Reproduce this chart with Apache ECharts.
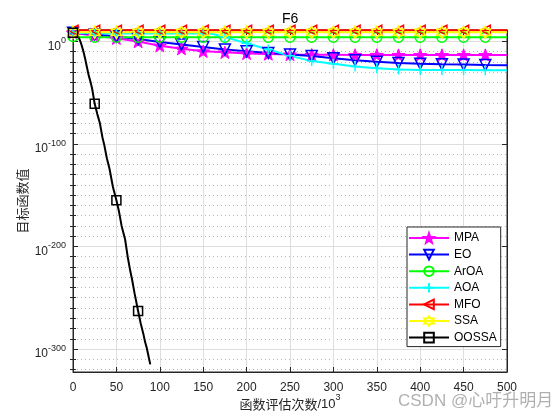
<!DOCTYPE html>
<html><head><meta charset="utf-8">
<script src="https://cdn.jsdelivr.net/npm/echarts@6/dist/echarts.min.js"></script>
<style>html,body{margin:0;padding:0;background:#fff}#c{width:560px;height:420px}</style>
</head><body><div id="c"></div>
<script>
// ---- data (y values are log10 of the objective value) ----
const seriesNames = ['MPA','EO','ArOA','AOA','MFO','SSA','OOSSA'];
const xTickValues = [0,50,100,150,200,250,300,350,400,450,500];
const yMajorExps = [-300,-200,-100,0];
const yMinorExps = [-320,-310,-290,-280,-270,-260,-250,-240,-230,-220,-210,-190,-180,-170,-160,-150,-140,-130,-120,-110,-90,-80,-70,-60,-50,-40,-30,-20,-10,10];

const xs25 = [0,25,50,75,100,125,150,175,200,225,250,275,300,325,350,375,400,425,450,475,500];
const mpaLog10 = [8.3,5.4,2.9,-0.3,-4.3,-7.2,-9.8,-10.8,-11.8,-12.4,-12.9,-13.1,-13.2,-13.3,-13.3,-13.4,-13.4,-13.4,-13.4,-13.4,-13.4];
const eoLog10  = [8.3,6.8,4.7,2.2,-0.8,-3.2,-5.6,-7.9,-9.8,-11.3,-12.8,-14.4,-16.5,-18.4,-20.0,-21.1,-21.8,-22.3,-22.7,-23.1,-23.4];
const aroaX     = [0,6,25,50,75,100,125,150,175,200,225,250,275,300,325,350,375,400,425,450,475,500];
const aroaLog10 = [4.7,4.0,4.0,4.0,4.0,4.0,4.0,4.0,4.0,4.0,4.0,4.0,4.0,4.0,4.0,4.0,4.0,4.0,4.0,4.0,4.0,4.0];
const aoaX      = [0,25,50,75,100,125,150,160,175,200,225,250,275,300,325,350,375,400,425,450,475,500];
const aoaLog10  = [8.3,7.7,7.7,7.7,7.7,7.7,7.7,7.3,4.2,-2.0,-8.0,-14.2,-19.3,-22.0,-24.5,-26.3,-27.4,-27.9,-28.1,-28.1,-28.2,-28.2];
const mfoLog10 = [10.7,10.7,10.7,10.7,10.7,10.7,10.7,10.7,10.7,10.7,10.7,10.7,10.7,10.7,10.7,10.7,10.7,10.7,10.7,10.7,10.7];
const ssaLog10 = [8.7,8.7,8.7,8.7,8.7,8.7,8.7,8.7,8.7,8.7,8.7,8.7,8.7,8.7,8.7,8.7,8.7,8.7,8.7,8.7,8.7];
const oossaX     = [0,2,4,6,8,10,12,14,16,18,20,22,25,28,31,34,36,39,42,46,50,53,56,60,63,66,68,71,75,78,81,83,85,87,89];
const oossaLog10 = [8.3,7.8,6.5,4.5,1,-4,-10,-17,-25,-33,-39,-46,-61,-71,-80,-94,-101,-114,-124,-142,-155,-166,-180,-193,-210,-224,-232,-246,-263,-275,-285,-293,-299,-307,-315];

// ---- helpers ----
function build(xs, ys){
  return xs.map((x,i)=>{
    const item = {value:[x, ys[i]]};
    if (!(x % 25 === 0 && x < 500)) item.symbol = 'none';
    return item;
  });
}
const STAR = 'path://M0,-10 L2.35,-3.24 L9.51,-3.09 L3.8,1.24 L5.88,8.09 L0,4 L-5.88,8.09 L-3.8,1.24 L-9.51,-3.09 L-2.35,-3.24 Z';
const HEXA = 'path://M0,-10 L2.887,-5 L8.66,-5 L5.774,0 L8.66,5 L2.887,5 L0,10 L-2.887,5 L-8.66,5 L-5.774,0 L-8.66,-5 L-2.887,-5 Z';
const PLUS = 'path://M-10,0 L10,0 M0,-10 L0,10';
const CLEAR = 'rgba(0,0,0,0)';
const AX = '#262626';
const FONT = 'Liberation Sans, Arial, sans-serif';
const CJK = 'Noto Sans CJK SC, sans-serif';

function line(name, xs, ys, color, symbol, size, filled, rotate){
  return {
    name, type:'line', xAxisIndex:0, yAxisIndex:0,
    data: build(xs, ys), clip:false, animation:false,
    symbol, symbolSize:size, symbolRotate: rotate||0, symbolKeepAspect:true,
    showAllSymbol:true,
    lineStyle:{color, width:2},
    itemStyle: filled ? {color, borderColor:color, borderWidth:1} : {color:CLEAR, borderColor:color, borderWidth:1.5},
    emphasis:{disabled:true}
  };
}

const yMin = -322.4, yMax = 11;
const yLabelRich = {
  b:{fontSize:12, fontFamily:FONT, color:AX, lineHeight:16, verticalAlign:'bottom'},
  s:{fontSize:9, fontFamily:FONT, color:AX, lineHeight:9, verticalAlign:'top'}
};

const chart = echarts.init(document.getElementById('c'), null, {renderer:'canvas'});
chart.setOption({
  backgroundColor:'#fff',
  animation:false,
  title:{text:'F6', left:282, top:12, padding:0, textStyle:{fontSize:14, fontWeight:'normal', color:'#000', fontFamily:FONT}},
  grid:{left:73, right:53, top:30, bottom:48, show:true, borderColor:AX, borderWidth:1, backgroundColor:'#fff', containLabel:false, outerBoundsMode:'none'},
  legend:{
    orient:'vertical', left:407, top:227, itemWidth:40, itemHeight:12, itemGap:4.6,
    padding:[5,4,3,1], backgroundColor:'#fff', borderColor:AX, borderWidth:1, borderRadius:0,
    textStyle:{fontSize:12, fontFamily:FONT, color:'#000'}, data:seriesNames
  },
  xAxis:[
    {type:'value', position:'bottom', min:0, max:500, interval:50,
     axisLine:{show:true, onZero:false, lineStyle:{color:AX}},
     axisTick:{show:true, inside:true, length:5, lineStyle:{color:AX}},
     axisLabel:{show:true, margin:10, fontSize:12, fontFamily:FONT, color:AX},
     splitLine:{show:true, lineStyle:{color:'#dedede', width:1}},
     name:'{c|函数评估次数}{a|/10}{s|3}', nameLocation:'middle', nameGap:21, nameMoveOverlap:false,
     nameTextStyle:{rich:{
       c:{fontSize:13, fontFamily:CJK, color:AX, lineHeight:18, verticalAlign:'bottom'},
       a:{fontSize:13, fontFamily:FONT, color:AX, lineHeight:18, verticalAlign:'bottom'},
       s:{fontSize:9, fontFamily:FONT, color:AX, lineHeight:9, verticalAlign:'top'}
     }}
    },
    {type:'value', position:'top', min:0, max:500, interval:50,
     axisLine:{show:true, onZero:false, lineStyle:{color:AX}},
     axisTick:{show:true, inside:true, length:5, lineStyle:{color:AX}},
     axisLabel:{show:false}, splitLine:{show:false}}
  ],
  yAxis:[
    {type:'value', position:'left', min:yMin, max:yMax,
     axisLine:{show:true, onZero:false, lineStyle:{color:AX}},
     axisTick:{show:true, inside:true, length:5, customValues:yMajorExps, lineStyle:{color:AX}},
     axisLabel:{show:true, customValues:yMajorExps, margin:7, padding:[6,0,0,0],
       formatter:v=>'{b|10}{s|'+Math.round(v)+'}', rich:yLabelRich},
     splitLine:{show:true, lineStyle:{color:'#dedede', width:1}},
     name:'目标函数值', nameLocation:'middle', nameGap:44, nameMoveOverlap:false,
     nameTextStyle:{fontSize:13, fontFamily:CJK, color:AX}
    },
    {type:'value', position:'left', min:yMin, max:yMax,
     axisLine:{show:false},
     axisTick:{show:true, inside:true, length:3, customValues:yMinorExps, lineStyle:{color:AX}},
     axisLabel:{show:false},
     splitLine:{show:true, lineStyle:{color:'#b4b4b4', width:1, type:[1,3]}}
    },
    {type:'value', position:'right', min:yMin, max:yMax,
     axisLine:{show:true, onZero:false, lineStyle:{color:AX}},
     axisTick:{show:true, inside:true, length:5, customValues:yMajorExps, lineStyle:{color:AX}},
     axisLabel:{show:false}, splitLine:{show:false}
    },
    {type:'value', position:'right', min:yMin, max:yMax,
     axisLine:{show:false},
     axisTick:{show:true, inside:true, length:3, customValues:yMinorExps, lineStyle:{color:AX}},
     axisLabel:{show:false}, splitLine:{show:false}
    }
  ],
  graphic:[
    {type:'text', left:398, top:393, silent:true,
     style:{text:'CSDN @心吁升明月', fontSize:17, fontFamily:'Liberation Sans, Noto Sans CJK SC, sans-serif', fill:'rgba(150,150,150,0.75)'}}
  ],
  series:[
    line('MPA', xs25, mpaLog10, '#ff00ff', STAR, 13, true),
    line('EO', xs25, eoLog10, '#0000ff', 'triangle', 11, false, 180),
    line('ArOA', aroaX, aroaLog10, '#00ff00', 'circle', 10, false),
    line('AOA', aoaX, aoaLog10, '#00ffff', PLUS, 10, false),
    line('MFO', xs25, mfoLog10, '#ff0000', 'triangle', 10, false, 90),
    line('SSA', xs25, ssaLog10, '#ffff00', HEXA, 12, false),
    line('OOSSA', oossaX, oossaLog10, '#000000', 'rect', 9, false)
  ]
});
</script></body></html>
